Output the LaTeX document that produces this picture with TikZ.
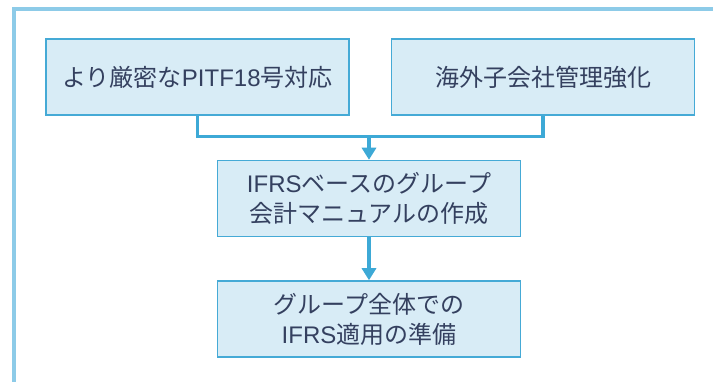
\documentclass[tikz,border=0pt]{standalone}
\usepackage{fontspec}
\setmainfont{Noto Sans CJK JP}
\newfontfamily\lat{Liberation Sans}
\usetikzlibrary{arrows.meta}
\definecolor{framec}{HTML}{8DCBE8}
\definecolor{linec}{HTML}{3DA9D6}
\definecolor{boxfill}{HTML}{D8ECF6}
\definecolor{boxdraw}{HTML}{45AAD6}
\definecolor{textc}{HTML}{34405F}
\tikzset{
  stepbox/.style={draw=boxdraw, line width=1.5pt, fill=boxfill, minimum width=303pt, minimum height=76pt, inner sep=0pt, text=textc, font=\fontsize{24pt}{30pt}\selectfont, align=center},
  conn/.style={draw=linec, line width=3.2pt},
  arr/.style={conn, -{Triangle[width=14pt,length=12pt]}}
}
\begin{document}
\begin{tikzpicture}[x=1pt,y=-1pt]
\useasboundingbox (0,0) rectangle (713,382);
\fill[white] (0,0) rectangle (713,382);
\draw[framec, line width=4pt] (14,382) -- (14,9) -- (713,9);
\node[stepbox] (a) at (197.5,77) {より厳密な{\lat PITF18}号対応};
\node[stepbox] (b) at (543,77) {海外子会社管理強化};
\node[stepbox] (c) at (369,198.5) {{\lat IFRS}ベースのグループ\\会計マニュアルの作成};
\node[stepbox] (d) at (369,319) {グループ全体での\\{\lat IFRS}適用の準備};
\coordinate (j) at (369,136.5);
\draw[conn] (a.south) |- (j) -| (b.south);
\draw[arr] (j) -- (c.north);
\draw[arr] (c.south) -- (d.north);
\end{tikzpicture}
\end{document}
